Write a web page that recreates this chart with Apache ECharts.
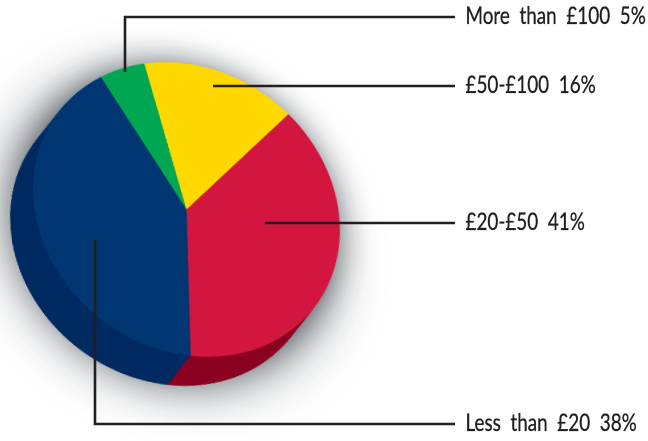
<!DOCTYPE html>
<html>
<head>
<meta charset="utf-8">
<style>
html,body{margin:0;padding:0;background:#fff;overflow:hidden;width:648px;height:441px}
#wrap{position:relative;width:648px;height:441px;overflow:hidden}
#pie{position:absolute;left:-60px;top:-60px;width:768px;height:561px}
#notes{position:absolute;left:0;top:0;width:648px;height:441px}
</style>
<script src="https://cdn.jsdelivr.net/npm/echarts@6/dist/echarts.min.js"></script>
</head>
<body>
<div id="wrap"><div id="pie"></div><div id="notes"></div></div>
<script>
// Printed labels, top to bottom
const categories = ['More than £100', '£50-£100', '£20-£50', 'Less than £20'];
const labelledPercents = [5, 16, 41, 38];
// Slice sizes as drawn in the picture (red and navy are the other way round from the printed labels)
const drawnShares = [5, 16, 38, 41];
const topColors = ['#00a651', '#ffd800', '#d31640', '#003773'];
const sideColors = ['#008040', '#c9a800', '#8b0020', '#002a62'];

// The disc is a tilted ellipse on the page: the pie is drawn round and sheared by CSS
const cx = 186.5, cy = 209.5, R = 150, semiMajor = 161, semiMinor = 139, tilt = 37 * Math.PI / 180;
const ux = Math.cos(tilt), uy = Math.sin(tilt), sa = semiMajor / R, sb = semiMinor / R;
const m11 = sa * ux * ux + sb * uy * uy, m12 = (sa - sb) * ux * uy, m22 = sa * uy * uy + sb * ux * ux;
const det = m11 * m22 - m12 * m12;
const unshear = (x, y) => [(m22 * x - m12 * y) / det, (m11 * y - m12 * x) / det];
const pad = 60, start = 120, depthSteps = 30;
const depth = unshear(-23, 29);

const pieDom = document.getElementById('pie');
pieDom.style.transformOrigin = (cx + pad) + 'px ' + (cy + pad) + 'px';
pieDom.style.transform = 'matrix(' + [m11, m12, m12, m22, 0, 0].join(',') + ')';

const chart = echarts.init(pieDom, null, {renderer: 'canvas', devicePixelRatio: 2});
const notes = echarts.init(document.getElementById('notes'), null, {renderer: 'canvas', devicePixelRatio: 2});

function pie(center, colors, z) {
  return {
    type: 'pie', silent: true, animation: false, radius: [0, R], center, startAngle: start,
    clockwise: true, z, label: {show: false}, labelLine: {show: false},
    emphasis: {disabled: true},
    data: categories.map((name, i) => ({name, value: drawnShares[i], itemStyle: {color: colors[i]}}))
  };
}

const series = [];
const total = drawnShares.reduce((a, b) => a + b, 0);
// soft drop shadow under the body
[[0.8, 'rgba(20,30,40,0.9)', 58], [0.05, 'rgba(20,30,40,0.5)', 32]].forEach((s, k) => {
  series.push({
    type: 'pie', silent: true, animation: false, radius: [0, R - 1],
    center: [cx + pad + depth[0] * s[0], cy + pad + depth[1] * s[0]], z: 1 + k,
    label: {show: false}, labelLine: {show: false}, emphasis: {disabled: true},
    data: [{value: total, itemStyle: {color: '#8a8f94', shadowBlur: s[2], shadowColor: s[1]}}]
  });
});
// extruded side
for (let k = depthSteps; k >= 1; k--) {
  const t = k / depthSteps;
  series.push(pie([cx + pad + depth[0] * t, cy + pad + depth[1] * t], sideColors, 10 + depthSteps - k));
}
// top face
series.push(pie([cx + pad, cy + pad], topColors, 60));

const leaders = [
  [[125, 72], [125, 17], [455, 17]],
  [[213, 86], [455, 86]],
  [[265, 223], [455, 223]],
  [[95, 240], [95, 424], [455, 424]]
];
const graphic = [];
leaders.forEach((pts, i) => {
  graphic.push({
    type: 'polyline', z: 100, silent: true,
    shape: {points: pts},
    style: {fill: null, stroke: '#231f20', lineWidth: 2.6, lineJoin: 'miter'}
  });
  graphic.push({
    type: 'text', z: 100, silent: true, x: 465.5, y: pts[pts.length - 1][1] - 1, scaleX: 0.77, originX: 0,
    style: {
      text: categories[i].replace(/ /g, '  ') + '  ' + labelledPercents[i] + '%',
      font: '24.5px Lato', fill: '#231f20', stroke: '#231f20', lineWidth: 0.35,
      textAlign: 'left', textVerticalAlign: 'middle'
    }
  });
});

chart.setOption({backgroundColor: 'transparent', animation: false, series});
notes.setOption({backgroundColor: 'transparent', animation: false, graphic});
</script>
</body>
</html>
